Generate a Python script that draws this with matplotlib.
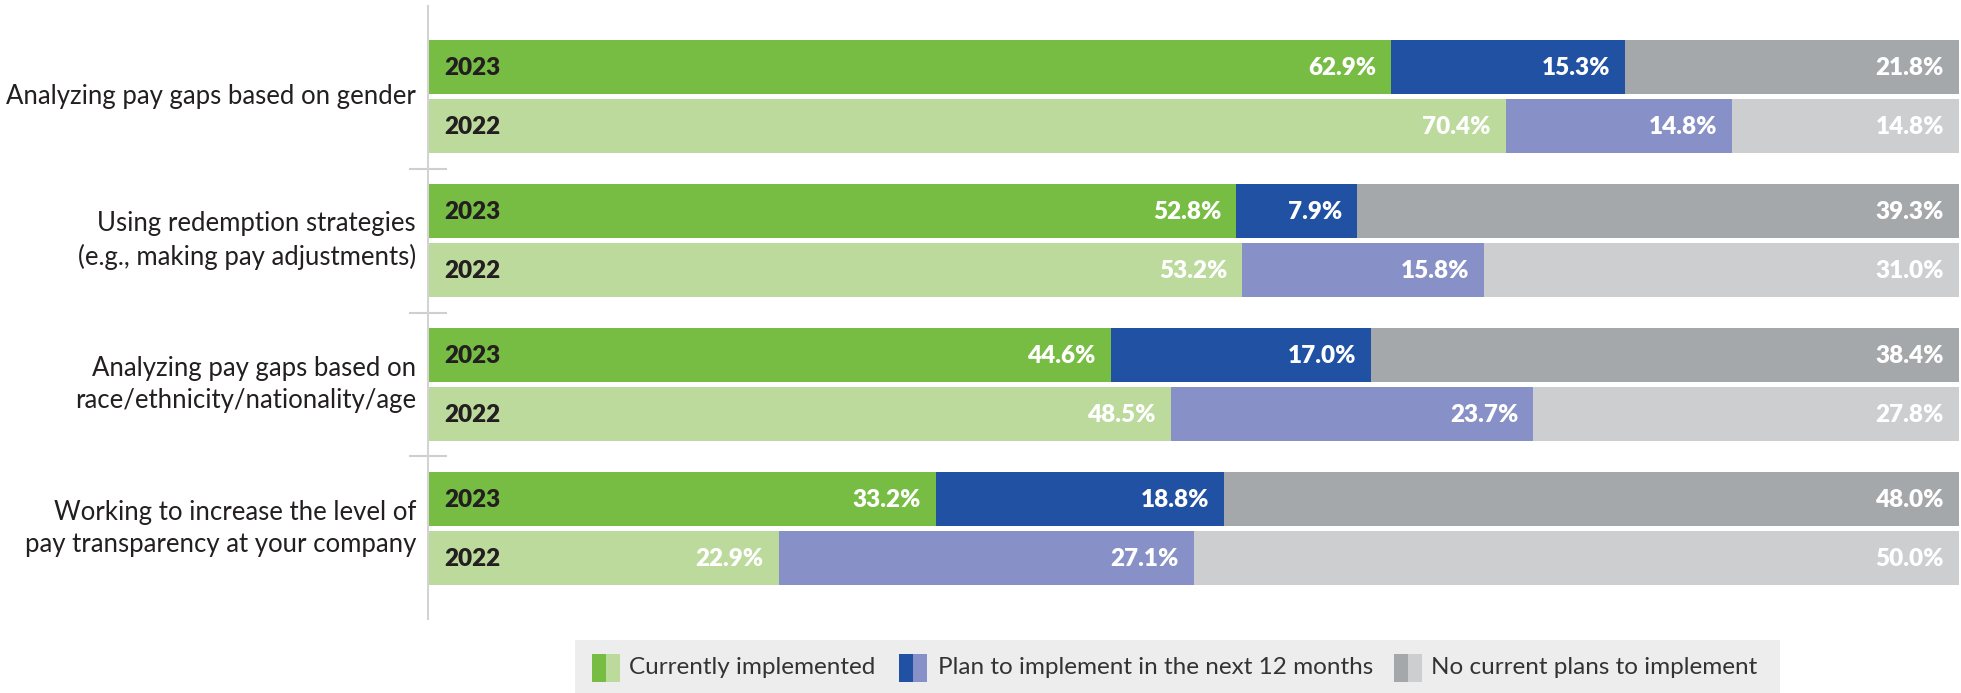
import matplotlib
matplotlib.use("Agg")
import matplotlib.pyplot as plt
from matplotlib.patches import Rectangle

plt.rcParams['font.family'] = ['Lato', 'DejaVu Sans']

# ---------------- data ----------------
categories = [
    "Analyzing pay gaps based on gender",
    "Using redemption strategies\n(e.g., making pay adjustments)",
    "Analyzing pay gaps based on\nrace/ethnicity/nationality/age",
    "Working to increase the level of\npay transparency at your company",
]
years = ["2023", "2022"]
series_names = ["Currently implemented", "Plan to implement in the next 12 months",
                "No current plans to implement"]

implemented_2023 = [62.9, 52.8, 44.6, 33.2]
plan_2023 = [15.3, 7.9, 17.0, 18.8]
noplan_2023 = [21.8, 39.3, 38.4, 48.0]

implemented_2022 = [70.4, 53.2, 48.5, 22.9]
plan_2022 = [14.8, 15.8, 23.7, 27.1]
noplan_2022 = [14.8, 31.0, 27.8, 50.0]

# ---------------- styles ----------------
colors_2023 = ["#77bc43", "#2151a3", "#a5a8ab"]
colors_2022 = ["#bbda9c", "#8891c7", "#cdcecf"]
text_dark = "#231f20"
W, H = 1961, 693

fig = plt.figure(figsize=(W / 100, H / 100), dpi=100)
ax = fig.add_axes([428 / W, 1 - 619 / H, (1959 - 428) / W, (619 - 6) / H])

bar_h = 0.375
off = 0.204

data_by_year = {
    "2023": ([implemented_2023, plan_2023, noplan_2023], colors_2023, -off),
    "2022": ([implemented_2022, plan_2022, noplan_2022], colors_2022, off),
}

for yr in years:
    series, cols, dy = data_by_year[yr]
    for i in range(len(categories)):
        y = i + dy
        left = 0.0
        for s, c in zip(series, cols):
            v = s[i]
            ax.barh(y, v, left=left, height=bar_h, color=c, edgecolor="none")
            ax.annotate(f"{v:.1f}%", xy=(left + v, y), xytext=(-15, -1),
                        textcoords="offset pixels", ha="right", va="center",
                        color="white", fontsize=17.5, fontweight="heavy")
            left += v
        ax.annotate(yr, xy=(0, y), xytext=(16, -1), textcoords="offset pixels",
                    ha="left", va="center", color=text_dark, fontsize=17.5,
                    fontweight="heavy")

for i, cat in enumerate(categories):
    ax.annotate(cat, xy=(0, i), xycoords=("axes fraction", "data"),
                xytext=(-12, 0), textcoords="offset pixels", ha="right",
                va="center", multialignment="right", color=text_dark,
                fontsize=18.5, linespacing=1.35)

ax.set_xlim(0, 100)
ax.set_ylim(len(categories) - 0.37, -0.63)
ax.set_xticks([])
ax.set_yticks([0.5, 1.5, 2.5])
ax.set_yticklabels([])
ax.tick_params(axis="y", direction="inout", length=28, width=1.5, color="#cfcfcf")
for sp in ["top", "right", "bottom"]:
    ax.spines[sp].set_visible(False)
ax.spines["left"].set_color("#d3d3d3")
ax.spines["left"].set_linewidth(1.5)
ax.patch.set_visible(False)

# ---------------- legend ----------------
fig.patches.append(Rectangle((575 / W, 0), (1780 - 575) / W, (693 - 640) / H,
                             transform=fig.transFigure, facecolor="#ecedec",
                             edgecolor="none", zorder=0))
sq_x = [592, 899, 1394]
txt_x = [629, 938, 1431]
sq = 28
yc = 668
for k, name in enumerate(series_names):
    x0 = sq_x[k]
    fig.patches.append(Rectangle((x0 / W, 1 - (yc + sq / 2) / H), (sq / 2) / W, sq / H,
                                 transform=fig.transFigure, facecolor=colors_2023[k],
                                 edgecolor="none", zorder=1))
    fig.patches.append(Rectangle(((x0 + sq / 2) / W, 1 - (yc + sq / 2) / H), (sq / 2) / W,
                                 sq / H, transform=fig.transFigure,
                                 facecolor=colors_2022[k], edgecolor="none", zorder=1))
    fig.text(txt_x[k] / W, 1 - yc / H, name, ha="left", va="center",
             color="#333333", fontsize=17.5)

fig.savefig("out.png", dpi=100)
